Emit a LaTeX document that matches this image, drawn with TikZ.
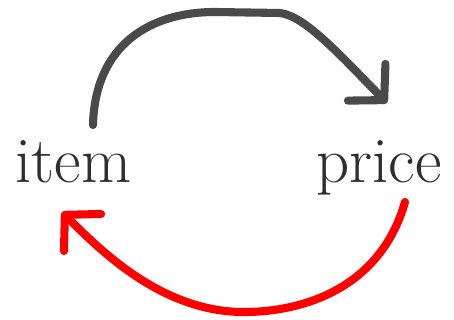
\documentclass[tikz,border=0pt]{standalone}
\usepackage{tikz}
\usetikzlibrary{arrows.meta}
\definecolor{inkgray}{HTML}{4A4A4A}
\definecolor{inkred}{HTML}{FF0000}
\definecolor{txt}{HTML}{2E2E2E}

\begin{document}
\begin{tikzpicture}[
  x=0.02cm,y=-0.02cm,
  word/.style={font=\fontsize{37}{42}\selectfont\color{txt},inner sep=0pt,anchor=base west},
  stroke/.style={line width=4.6pt,line cap=round,line join=round,
    -{Straight Barb[length=0.5cm,width=1.05cm,line width=4.6pt,round]}},
  upper/.style={stroke,draw=inkgray},
  lower/.style={stroke,draw=inkred},
]
\useasboundingbox (0,0) rectangle (454,320);

\node[word] (item) at (15,183) {item};
\node[word] (price) at (316,183) {price};

\coordinate (itemtop) at (93,125);
\coordinate (pricetop) at (387,103);
\coordinate (pricelow) at (405,202);
\coordinate (itemlow) at (62,212);

% price goes up, item comes back
\draw[upper] (itemtop) .. controls (95,45) and (150,12) .. (215,12)
  -- (280,13) .. controls (305,16) and (340,55) .. (pricetop);
\draw[lower] (pricelow) .. controls (380,290) and (300,313) .. (240,312)
  .. controls (160,310) and (100,250) .. (itemlow);
\end{tikzpicture}
\end{document}
